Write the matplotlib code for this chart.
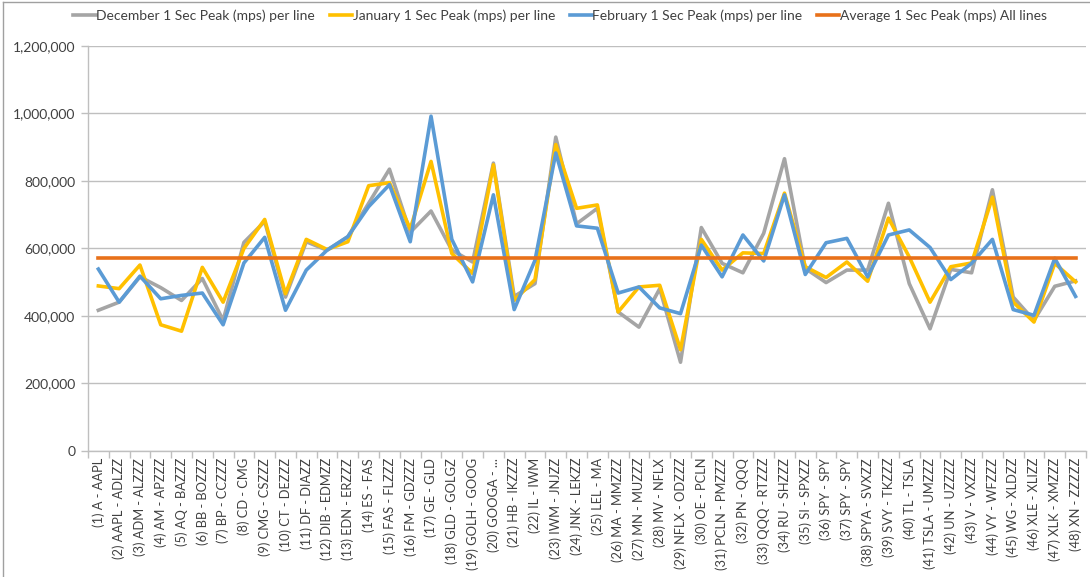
import matplotlib
matplotlib.use('Agg')
import matplotlib.pyplot as plt
from matplotlib.ticker import FuncFormatter, FixedLocator
import numpy as np

plt.rcParams['font.family'] = ['Lato', 'DejaVu Sans']

categories = [
	'(1) A - AAPL', '(2) AAPL - ADLZZ', '(3) ADM - ALZZZ', '(4) AM - APZZZ',
	'(5) AQ - BAZZZ', '(6) BB - BOZZZ', '(7) BP - CCZZZ', '(8) CD - CMG',
	'(9) CMG - CSZZZ', '(10) CT - DEZZZ', '(11) DF - DIAZZ', '(12) DIB - EDMZZ',
	'(13) EDN - ERZZZ', '(14) ES - FAS', '(15) FAS - FLZZZ', '(16) FM - GDZZZ',
	'(17) GE - GLD', '(18) GLD - GOLGZ', '(19) GOLH - GOOG', '(20) GOOGA - ...',
	'(21) HB - IKZZZ', '(22) IL - IWM', '(23) IWM - JNJZZ', '(24) JNK - LEKZZ',
	'(25) LEL - MA', '(26) MA - MMZZZ', '(27) MN - MUZZZ', '(28) MV - NFLX',
	'(29) NFLX - ODZZZ', '(30) OE - PCLN', '(31) PCLN - PMZZZ', '(32) PN - QQQ',
	'(33) QQQ - RTZZZ', '(34) RU - SHZZZ', '(35) SI - SPXZZ', '(36) SPY - SPY',
	'(37) SPY - SPY', '(38) SPYA - SVXZZ', '(39) SVY - TKZZZ', '(40) TL - TSLA',
	'(41) TSLA - UMZZZ', '(42) UN - UZZZZ', '(43) V - VXZZZ', '(44) VY - WFZZZ',
	'(45) WG - XLDZZ', '(46) XLE - XLIZZ', '(47) XLK - XMZZZ', '(48) XN - ZZZZZ',
]

december = [
	417000, 441000, 516000, 484000, 446000, 511000, 387000, 618000,
	680000, 456000, 620000, 595000, 635000, 734000, 835000, 648000,
	711000, 595000, 560000, 853000, 458000, 496000, 930000, 673000,
	719000, 412000, 367000, 481000, 263000, 662000, 556000, 528000,
	645000, 866000, 541000, 499000, 536000, 536000, 734000, 496000,
	362000, 538000, 528000, 774000, 456000, 387000, 488000, 504000,
]
january = [
	489000, 481000, 551000, 374000, 355000, 544000, 441000, 600000,
	686000, 466000, 627000, 597000, 620000, 786000, 795000, 658000,
	858000, 585000, 526000, 848000, 446000, 508000, 908000, 719000,
	729000, 412000, 486000, 491000, 300000, 627000, 536000, 587000,
	585000, 764000, 546000, 514000, 560000, 503000, 690000, 575000,
	441000, 546000, 557000, 752000, 441000, 382000, 556000, 501000,
]
february = [
	539000, 441000, 518000, 451000, 461000, 468000, 374000, 557000,
	633000, 417000, 536000, 595000, 635000, 724000, 789000, 620000,
	992000, 627000, 501000, 759000, 419000, 565000, 883000, 667000,
	660000, 468000, 486000, 424000, 407000, 610000, 516000, 640000,
	563000, 759000, 523000, 617000, 630000, 516000, 640000, 655000,
	603000, 508000, 556000, 627000, 419000, 402000, 571000, 458000,
]
average_all = 571000

series_names = [
	'December 1 Sec Peak (mps) per line',
	'January 1 Sec Peak (mps) per line',
	'February 1 Sec Peak (mps) per line',
	'Average 1 Sec Peak (mps) All lines',
]
colors = ['#A5A5A5', '#FFC000', '#5B9BD5', '#E8711A']

y_ticks = [0, 200000, 400000, 600000, 800000, 1000000, 1200000]


def main():
	dpi = 100
	fig = plt.figure(figsize=(1090 / dpi, 577 / dpi), dpi=dpi)
	ax = fig.add_axes([0.0807, 0.2184, 0.9156, 0.7019])

	x = np.arange(1, len(categories) + 1)
	grid_c = '#BFBFBF'

	for vals, name, c in zip([december, january, february], series_names[:3], colors[:3]):
		ax.plot(x, vals, color=c, lw=2.6, label=name, solid_joinstyle='round', zorder=3)
	ax.plot(x, [average_all] * len(x), color=colors[3], lw=2.6, label=series_names[3], zorder=4)

	ax.set_xlim(0.5, len(categories) + 0.5)
	ax.set_ylim(0, 1200000)
	ax.set_yticks(y_ticks)
	ax.yaxis.set_major_formatter(FuncFormatter(lambda v, p: f'{int(v):,}'))
	ax.grid(axis='y', color=grid_c, lw=1.0, zorder=0)

	# labels at category centres, tick marks at category boundaries
	ax.set_xticks(x)
	ax.set_xticklabels(categories, rotation=90, fontsize=9.3, color='#404040')
	ax.tick_params(axis='x', which='major', length=0, pad=5)
	ax.xaxis.set_minor_locator(FixedLocator(np.arange(0.5, len(categories) + 1, 1)))
	ax.tick_params(axis='x', which='minor', length=5, color=grid_c, width=1)
	ax.tick_params(axis='y', length=5, color=grid_c, width=1, labelsize=10, labelcolor='#404040', pad=4)

	for s in ['top', 'right']:
		ax.spines[s].set_visible(False)
	for s in ['left', 'bottom']:
		ax.spines[s].set_color(grid_c)
		ax.spines[s].set_linewidth(1.0)

	fig.legend(loc='upper center', bbox_to_anchor=(0.514, 1.005), ncol=4, frameon=False,
		fontsize=10, handlelength=1.6, handletextpad=0.05, columnspacing=1.05,
		labelcolor='#404040')

	# thin chart border like the spreadsheet frame
	fig.add_artist(plt.Line2D([0.003, 0.003], [0, 0.997], color='#A0A0A0', lw=1, transform=fig.transFigure))
	fig.add_artist(plt.Line2D([0.003, 1.0], [0.997, 0.997], color='#A0A0A0', lw=1, transform=fig.transFigure))

	fig.savefig('out.png', dpi=dpi)
	plt.close(fig)


if __name__ == '__main__':
	main()
